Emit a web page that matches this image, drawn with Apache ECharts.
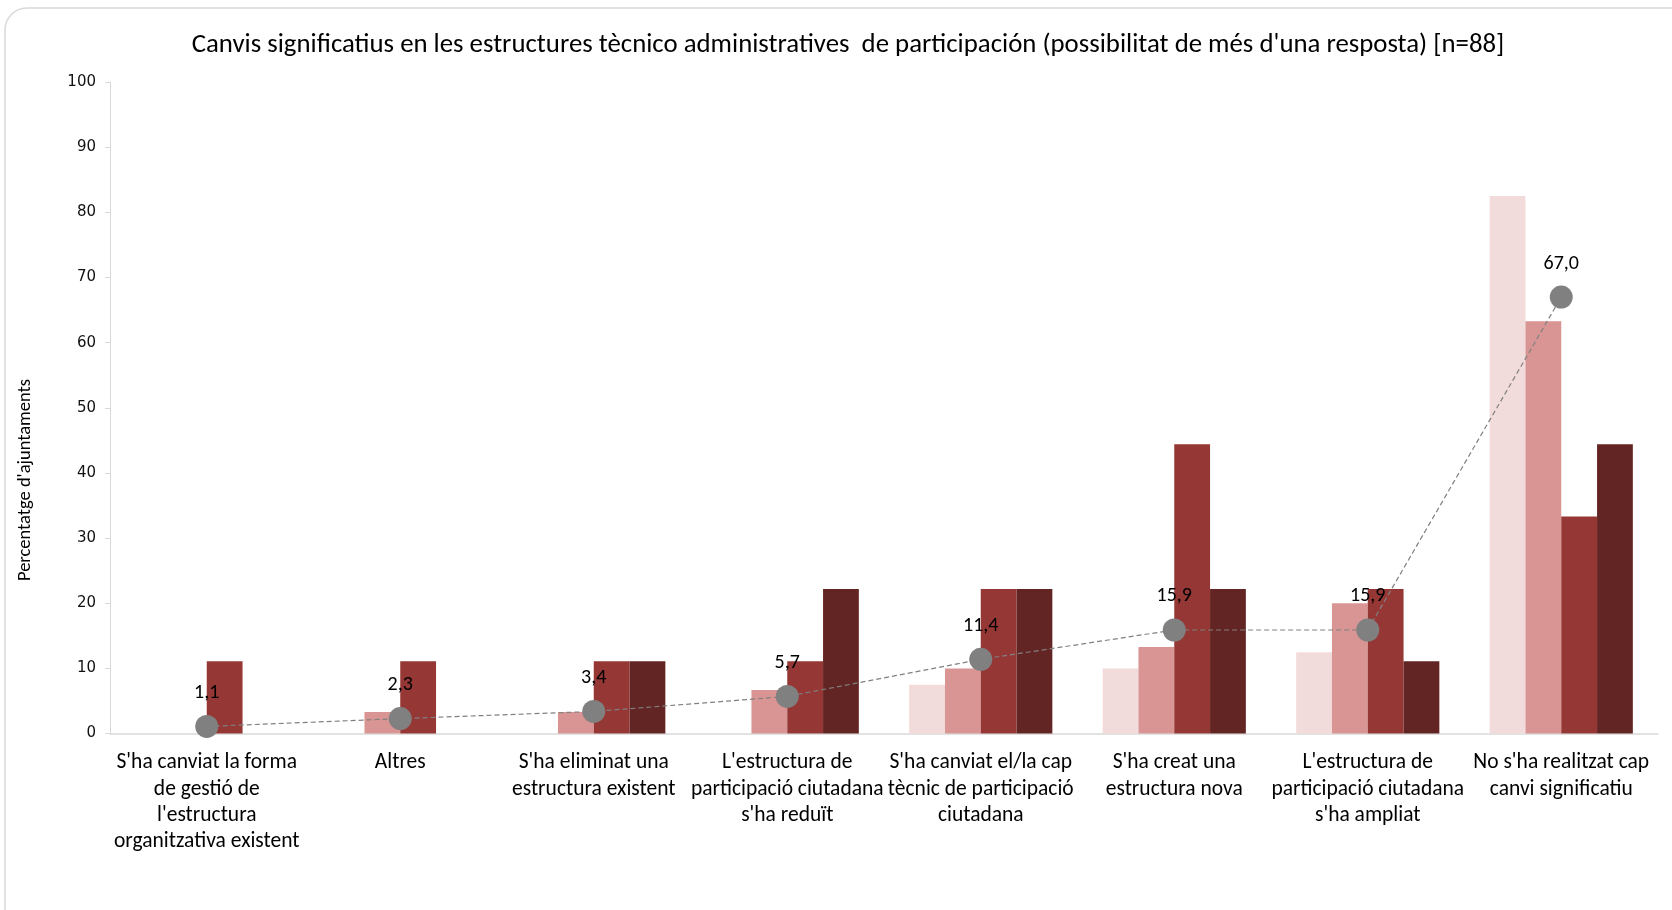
<!DOCTYPE html>
<html>
<head>
<meta charset="utf-8">
<script src="https://cdn.jsdelivr.net/npm/echarts@6/dist/echarts.min.js"></script>
<style>
html,body{margin:0;padding:0;background:#fff;}
#chart{width:1672px;height:910px;}
</style>
</head>
<body>
<div id="chart"></div>
<script>
const titleText = "Canvis significatius en les estructures tècnico administratives  de participación (possibilitat de més d'una resposta) [n=88]";
const yAxisName = "Percentatge d'ajuntaments";
const categories = [
  "S'ha canviat la forma\nde gestió de\nl'estructura\norganitzativa existent",
  "Altres",
  "S'ha eliminat una\nestructura existent",
  "L'estructura de\nparticipació ciutadana\ns'ha reduït",
  "S'ha canviat el/la cap\ntècnic de participació\nciutadana",
  "S'ha creat una\nestructura nova",
  "L'estructura de\nparticipació ciutadana\ns'ha ampliat",
  "No s'ha realitzat cap\ncanvi significatiu"
];
const yTicks = [0, 10, 20, 30, 40, 50, 60, 70, 80, 90, 100];
const group1 = [0, 0, 0, 0, 7.5, 10.0, 12.5, 82.5];
const group2 = [0, 3.3, 3.3, 6.7, 10.0, 13.3, 20.0, 63.3];
const group3 = [11.1, 11.1, 11.1, 11.1, 22.2, 44.4, 22.2, 33.3];
const group4 = [0, 0, 11.1, 22.2, 22.2, 22.2, 11.1, 44.4];
const total = [1.1, 2.3, 3.4, 5.7, 11.4, 15.9, 15.9, 67.0];

const catFont = "Carlito, 'Liberation Sans Narrow', 'Open Sans', sans-serif";
const colors = ['#F2DCDB', '#D99594', '#953735', '#632523'];

const chart = echarts.init(document.getElementById('chart'));
function barSeries(name, data, color) {
  return {
    name: name, type: 'bar', data: data, barGap: '0%', barCategoryGap: '26%',
    itemStyle: { color: color }, z: 2
  };
}
chart.setOption({
  animation: false,
  backgroundColor: '#fff',
  graphic: [
    { type: 'rect', z: -1, shape: { x: 5, y: 8, width: 1720, height: 960, r: 22 },
      style: { fill: '#fff', stroke: '#d9d9d9', lineWidth: 1.5 } },
    { type: 'text', x: 848, y: 45, style: { text: titleText, font: "26.8px " + catFont, fill: '#000', align: 'center', verticalAlign: 'middle' } },
    { type: 'text', x: 25, y: 480, rotation: Math.PI / 2, style: { text: yAxisName, font: "18.5px " + catFont, fill: '#000', align: 'center', verticalAlign: 'middle' } }
  ],
  grid: { left: 110, right: 14, top: 82, bottom: 176.4, containLabel: false },
  xAxis: {
    type: 'category', data: categories,
    axisLine: { show: true, lineStyle: { color: '#d9d9d9', width: 1.5 } },
    axisTick: { show: false },
    axisLabel: { interval: 0, margin: 16, color: '#000', fontSize: 21.5, lineHeight: 26.4, fontFamily: catFont }
  },
  yAxis: {
    type: 'value', min: yTicks[0], max: yTicks[yTicks.length - 1], interval: 10,
    splitLine: { show: false },
    axisLine: { show: true, lineStyle: { color: '#d9d9d9', width: 1 } },
    axisTick: { show: true, length: 5, lineStyle: { color: '#d9d9d9' } },
    axisLabel: { color: '#111', fontSize: 15, margin: 14, fontFamily: "'DejaVu Sans', sans-serif" }
  },
  series: [
    barSeries('Grup 1', group1, colors[0]),
    barSeries('Grup 2', group2, colors[1]),
    barSeries('Grup 3', group3, colors[2]),
    barSeries('Grup 4', group4, colors[3]),
    {
      name: 'Total', type: 'line', data: total, z: 5,
      symbol: 'circle', symbolSize: 23,
      itemStyle: { color: '#808080' },
      lineStyle: { color: '#808080', width: 1.2, type: [5, 3] },
      label: { show: true, position: 'top', distance: 12, color: '#000', fontSize: 20, fontFamily: catFont,
        formatter: p => p.value.toFixed(1).replace('.', ',') }
    }
  ]
});
</script>
</body>
</html>
